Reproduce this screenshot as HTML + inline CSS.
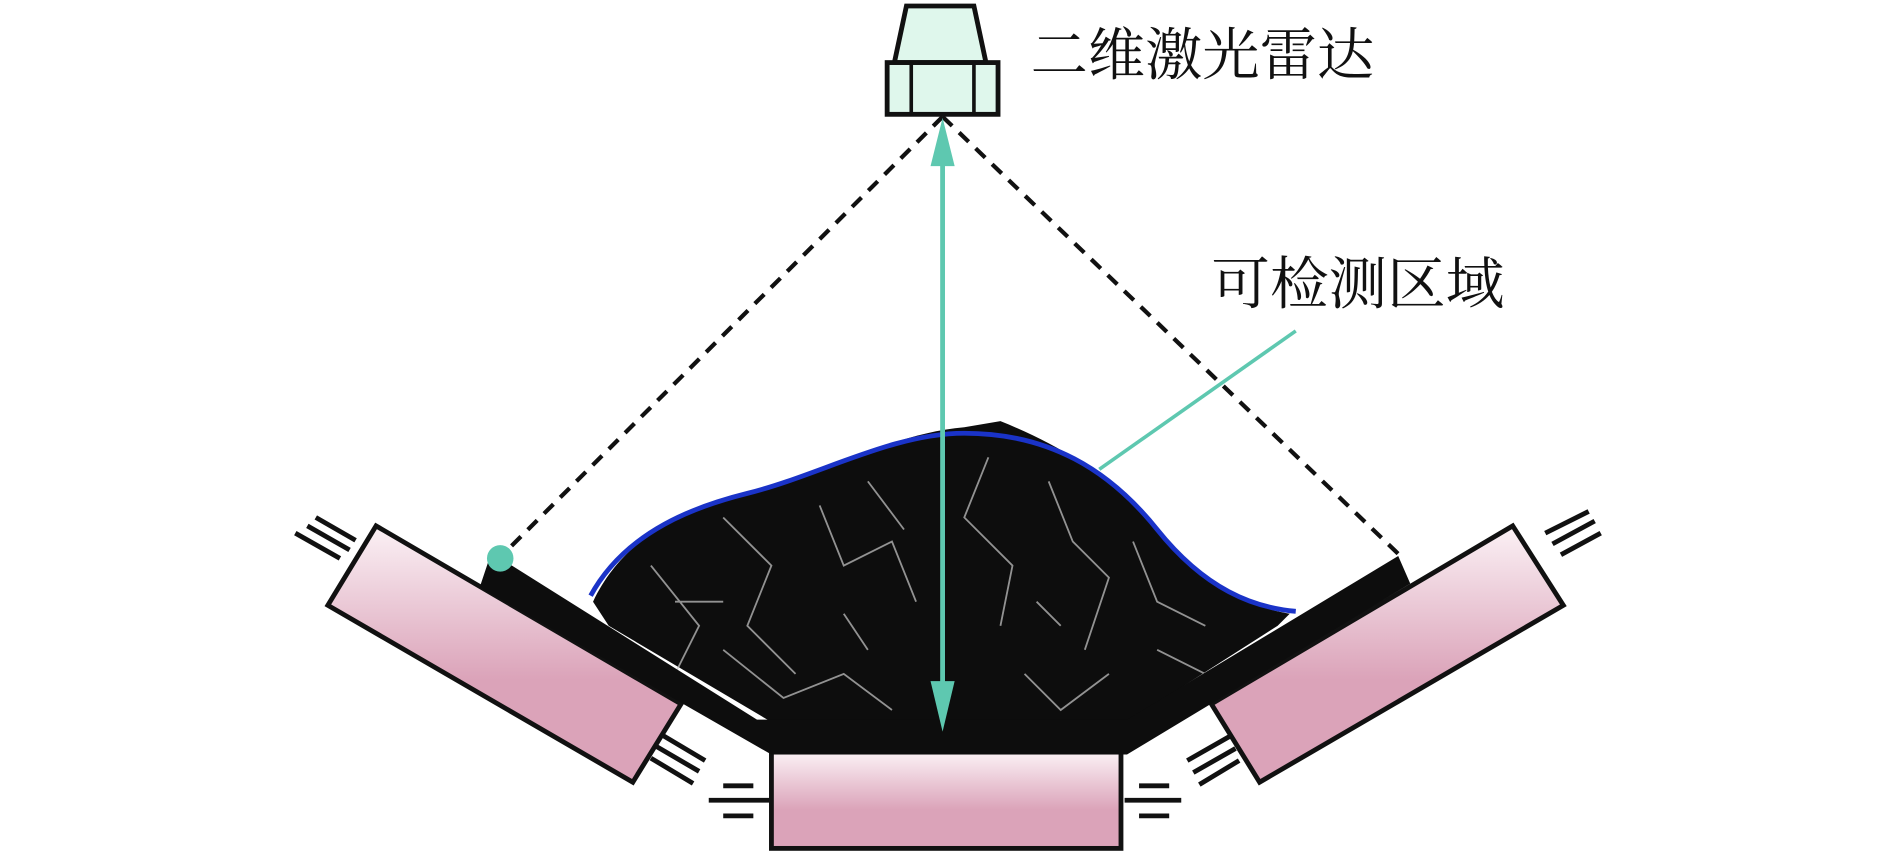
<!DOCTYPE html>
<html><head><meta charset="utf-8"><style>
html,body{margin:0;padding:0;background:#fff;width:1890px;height:852px;overflow:hidden}
svg{display:block}
text{font-family:"Liberation Serif","Noto Serif CJK SC","Noto Sans CJK SC",serif;fill:#111}
</style></head><body>
<svg width="1890" height="852" viewBox="0 0 1568 708" preserveAspectRatio="none" xmlns="http://www.w3.org/2000/svg">
<defs>
<linearGradient id="pg" x1="0" y1="0" x2="0" y2="1">
<stop offset="0" stop-color="#fbf1f5"/><stop offset="0.6" stop-color="#dba3b9"/><stop offset="1" stop-color="#dba3b9"/>
</linearGradient>
</defs>
<!-- lidar -->
<polygon points="752,5 808,5 818,52 742,52" fill="#dff7ec" stroke="#111" stroke-width="4"/>
<rect x="736" y="52" width="92" height="43" fill="#dff7ec" stroke="#111" stroke-width="4"/>
<line x1="756" y1="52" x2="756" y2="95" stroke="#111" stroke-width="3"/>
<line x1="808" y1="52" x2="808" y2="95" stroke="#111" stroke-width="3"/>
<text x="855" y="62" font-size="47" textLength="285" lengthAdjust="spacingAndGlyphs">二维激光雷达</text>
<text x="1005" y="252" font-size="47" textLength="243" lengthAdjust="spacingAndGlyphs">可检测区域</text>
<!-- dashed lines -->
<line x1="782" y1="97" x2="415" y2="463" stroke="#111" stroke-width="3.5" stroke-dasharray="11,8"/>
<line x1="782" y1="97" x2="1165" y2="465" stroke="#111" stroke-width="3.5" stroke-dasharray="11,8"/>
<!-- rollers -->
<polygon points="312,437 272,503 525,650 565,585" fill="url(#pg)" stroke="#111" stroke-width="4"/>
<polygon points="1255,437 1297,503 1045,650 1005,585" fill="url(#pg)" stroke="#111" stroke-width="4"/>
<rect x="640" y="625" width="290" height="80" fill="url(#pg)" stroke="#111" stroke-width="4"/>
<!-- bearing ticks -->
<g stroke="#111" stroke-width="4">
<line x1="245" y1="443" x2="282" y2="464"/><line x1="255" y1="437" x2="290" y2="457"/><line x1="262" y1="430" x2="295" y2="449"/>
<line x1="1282" y1="443" x2="1318" y2="425"/><line x1="1288" y1="452" x2="1323" y2="433"/><line x1="1295" y1="461" x2="1328" y2="443"/>
<line x1="548" y1="610" x2="585" y2="632"/><line x1="544" y1="620" x2="580" y2="641"/><line x1="540" y1="630" x2="575" y2="651"/>
<line x1="985" y1="632" x2="1020" y2="612"/><line x1="990" y1="642" x2="1025" y2="622"/><line x1="995" y1="652" x2="1028" y2="632"/>
<line x1="600" y1="653" x2="625" y2="653"/><line x1="588" y1="665" x2="638" y2="665"/><line x1="600" y1="678" x2="625" y2="678"/>
<line x1="945" y1="653" x2="970" y2="653"/><line x1="933" y1="665" x2="980" y2="665"/><line x1="945" y1="678" x2="970" y2="678"/>
</g>
<!-- coal -->
<path d="M492,500 C520,440 580,420 620,410 C680,395 740,360 800,355 L830,350 C880,370 920,395 960,440 C1000,490 1040,505 1070,510 L1060,520 L935,600 L640,600 L505,520 Z" fill="#0d0d0d"/>
<g stroke="#ccc" stroke-width="1.5" fill="none" opacity="0.7">
<path d="M540,470 L580,520 L560,560 M600,430 L640,470 L620,520 L660,560 M680,420 L700,470 L740,450 L760,500 M720,400 L750,440 M820,380 L800,430 L840,470 L830,520 M870,400 L890,450 L920,480 L900,540 M940,450 L960,500 L1000,520 M600,540 L650,580 L700,560 L740,590 M850,560 L880,590 L920,560 M960,540 L1000,560 M560,500 L600,500 M700,510 L720,540 M860,500 L880,520"/>
</g>
<!-- belt -->
<polygon points="405,467 412,462 628,598 935,598 1160,462 1170,485 935,627 640,627 398,488" fill="#0d0d0d"/>
<!-- blue curve -->
<path d="M490,495 C520,440 580,420 620,410 C680,395 740,360 800,360 C870,360 920,390 960,440 C1000,490 1040,505 1075,508" fill="none" stroke="#1a33c8" stroke-width="4"/>
<!-- leader -->
<line x1="1075" y1="275" x2="912" y2="390" stroke="#5ec8b0" stroke-width="3"/>
<!-- vertical arrow -->
<line x1="782" y1="130" x2="782" y2="580" stroke="#5ec8b0" stroke-width="4"/>
<polygon points="782,98 772,138 792,138" fill="#5ec8b0"/>
<polygon points="782,608 772,566 792,566" fill="#5ec8b0"/>
<circle cx="415" cy="464" r="11" fill="#5ec8b0"/>
</svg>
</body></html>
